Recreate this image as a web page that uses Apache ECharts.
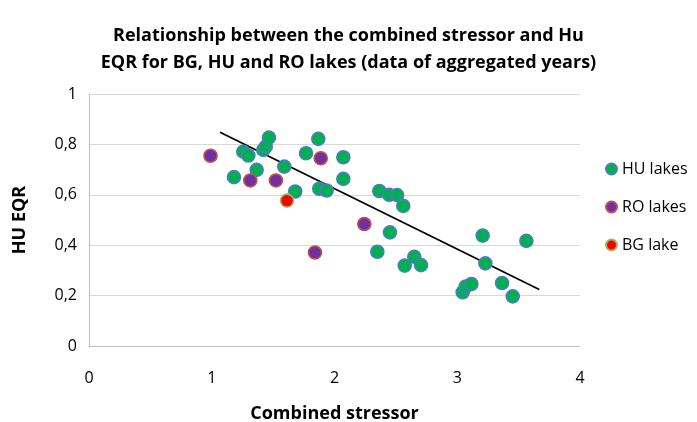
<!DOCTYPE html>
<html><head><meta charset="utf-8">
<script src="https://cdn.jsdelivr.net/npm/echarts@6/dist/echarts.min.js"></script>
<style>html,body{margin:0;padding:0;background:#fff}#c{width:697px;height:422px}</style>
</head><body><div id="c"></div>
<script>
var huX = [1.181,1.257,1.298,1.366,1.42,1.44,1.466,1.591,1.68,1.768,1.868,1.876,1.936,2.072,2.072,2.349,2.365,2.446,2.452,2.51,2.56,2.572,2.65,2.705,3.044,3.069,3.115,3.207,3.229,3.365,3.452,3.563];
var huY = [0.670,0.771,0.756,0.699,0.778,0.791,0.827,0.712,0.613,0.765,0.822,0.624,0.617,0.749,0.663,0.374,0.615,0.600,0.451,0.599,0.556,0.319,0.354,0.321,0.213,0.236,0.246,0.438,0.328,0.250,0.197,0.417];
var roX = [0.99,1.314,1.523,1.841,1.888,2.243];
var roY = [0.755,0.657,0.657,0.371,0.745,0.484];
var bgX = [1.613];
var bgY = [0.577];
var trendX = [1.067,3.668];
var trendY = [0.848,0.224];
var xTicks = [0,1,2,3,4];
var yTicks = [0,0.2,0.4,0.6,0.8,1];

function zip(a,b){return a.map(function(v,i){return [v,b[i]];});}
var FONT = 'Open Sans';
var chart = echarts.init(document.getElementById('c'), null, {renderer:'canvas'});
chart.setOption({
  animation:false,
  textStyle:{fontFamily:FONT},
  title:{
    text:'Relationship between the combined stressor and Hu\nEQR for BG, HU and RO lakes (data of aggregated years)',
    left:'center', top:17,
    textStyle:{fontFamily:FONT,fontSize:18,fontWeight:'bold',lineHeight:27,color:'#000'}
  },
  legend:{
    orient:'vertical', left:600, top:156, itemGap:22,
    icon:'circle', itemWidth:11, itemHeight:11,
    textStyle:{fontFamily:FONT,fontSize:16,color:'#000'},
    data:['HU lakes','RO lakes','BG lake']
  },
  grid:{left:89,right:117,top:94,bottom:76,containLabel:false,outerBoundsMode:'none'},
  xAxis:{
    type:'value', min:xTicks[0], max:xTicks[xTicks.length-1], interval:1,
    name:'Combined stressor', nameLocation:'middle', nameGap:59,
    nameTextStyle:{fontFamily:FONT,fontSize:18,fontWeight:'bold',color:'#000'},
    axisLine:{show:true,onZero:false,lineStyle:{color:'#BFBFBF'}},
    axisTick:{show:false},
    splitLine:{show:false},
    axisLabel:{fontFamily:FONT,fontSize:16,color:'#000',margin:24}
  },
  yAxis:{
    type:'value', min:yTicks[0], max:yTicks[yTicks.length-1], interval:0.2,
    name:'HU EQR', nameLocation:'middle', nameGap:60, nameRotate:90,
    nameTextStyle:{fontFamily:FONT,fontSize:18,fontWeight:'bold',color:'#000'},
    axisLine:{show:true,lineStyle:{color:'#BFBFBF'}},
    axisTick:{show:false},
    splitLine:{show:true,lineStyle:{color:'#D9D9D9',width:1}},
    axisLabel:{fontFamily:FONT,fontSize:16,color:'#000',margin:12,
      formatter:function(v){return String(Math.round(v*10)/10).replace('.',',');}}
  },
  series:[
    {name:'Trend',type:'line',data:zip(trendX,trendY),symbol:'none',silent:true,
      lineStyle:{color:'#000',width:1.8},z:1},
    {name:'HU lakes',type:'scatter',data:zip(huX,huY),symbolSize:13,
      itemStyle:{color:'#00B050',borderColor:'#4A7EC4',borderWidth:1.6,opacity:1},z:3},
    {name:'RO lakes',type:'scatter',data:zip(roX,roY),symbolSize:13,
      itemStyle:{color:'#7030A0',borderColor:'#C0504D',borderWidth:1.6,opacity:1},z:4},
    {name:'BG lake',type:'scatter',data:zip(bgX,bgY),symbolSize:13,
      itemStyle:{color:'#FF0000',borderColor:'#9BBB59',borderWidth:1.6,opacity:1},z:5}
  ]
});
</script></body></html>
